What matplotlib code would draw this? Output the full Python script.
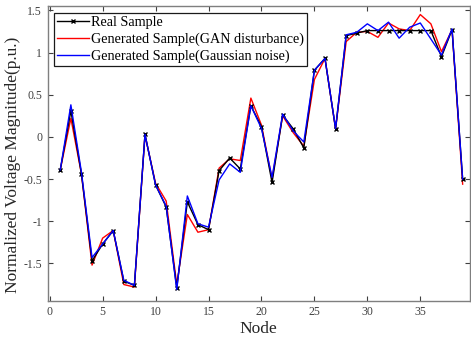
import matplotlib
matplotlib.use("Agg")
import matplotlib.pyplot as plt

# values (39 bus nodes)
nodes = list(range(1, 40))
real_sample = [
    -0.39, 0.31, -0.44, -1.47, -1.27, -1.11, -1.71, -1.76, 0.03, -0.57,
    -0.83, -1.79, -0.77, -1.04, -1.10, -0.40, -0.25, -0.38, 0.37, 0.12,
    -0.54, 0.26, 0.095, -0.13, 0.79, 0.93, 0.095, 1.20, 1.23, 1.26,
    1.26, 1.26, 1.26, 1.26, 1.26, 1.26, 0.95, 1.27, -0.50,
]
gan_sample = [
    -0.39, 0.22, -0.44, -1.52, -1.20, -1.11, -1.75, -1.78, 0.02, -0.55,
    -0.76, -1.75, -0.92, -1.13, -1.10, -0.37, -0.26, -0.28, 0.46, 0.14,
    -0.50, 0.25, 0.05, -0.11, 0.68, 0.93, 0.095, 1.13, 1.24, 1.25,
    1.18, 1.35, 1.28, 1.26, 1.45, 1.34, 1.01, 1.27, -0.56,
]
gauss_sample = [
    -0.39, 0.38, -0.42, -1.43, -1.27, -1.11, -1.70, -1.76, 0.03, -0.57,
    -0.82, -1.81, -0.70, -1.03, -1.07, -0.51, -0.32, -0.42, 0.37, 0.10,
    -0.48, 0.27, 0.07, -0.06, 0.79, 0.93, 0.10, 1.21, 1.24, 1.34,
    1.26, 1.36, 1.17, 1.30, 1.35, 1.16, 0.97, 1.28, -0.50,
]
x_ticks = [0, 5, 10, 15, 20, 25, 30, 35]
y_ticks = [-1.5, -1, -0.5, 0, 0.5, 1, 1.5]
y_tick_labels = ["-1.5", "-1", "-0.5", "0", "0.5", "1", "1.5"]

plt.rcParams["font.family"] = ["Liberation Serif", "DejaVu Serif"]

fig = plt.figure(figsize=(4.71, 3.40), dpi=100)
ax = fig.add_axes([0.101, 0.116, 0.897, 0.865])

ax.plot(nodes, real_sample, color="black", linewidth=1.0, marker="x",
        markersize=3.5, markeredgewidth=1.0, label="Real Sample", zorder=3)
ax.plot(nodes, gan_sample, color="red", linewidth=1.0,
        label="Generated Sample(GAN disturbance)", zorder=2)
ax.plot(nodes, gauss_sample, color="blue", linewidth=1.0,
        label="Generated Sample(Gaussian noise)", zorder=4)

ax.set_xlim(-0.2, 39.7)
ax.set_ylim(-1.94, 1.546)
ax.set_xticks(x_ticks)
ax.set_yticks(y_ticks)
ax.set_yticklabels(y_tick_labels)

ax.tick_params(direction="in", length=3.5, width=0.8, top=True, right=True,
               labelsize=8.5, colors="#404040", pad=4)
for s in ax.spines.values():
    s.set_color("#7f7f7f")
    s.set_linewidth(1.0)

ax.set_xlabel("Node", fontsize=12.5, color="#262626", labelpad=2)
ax.set_ylabel("Normalized Voltage Magnitude(p.u.)", fontsize=12.5,
              color="#262626")
# the label sits a little below the axes centre in the reference
ax.yaxis.set_label_coords(-0.062, 0.46)

leg = ax.legend(loc="upper left", fontsize=10.2, frameon=True, fancybox=False,
                edgecolor="#1a1a1a", framealpha=1, handlelength=2.3,
                handletextpad=0.15, labelspacing=0.25, borderpad=0.2,
                borderaxespad=0.45)
leg.get_frame().set_linewidth(0.9)

fig.savefig("out.png", dpi=100, facecolor="white")
